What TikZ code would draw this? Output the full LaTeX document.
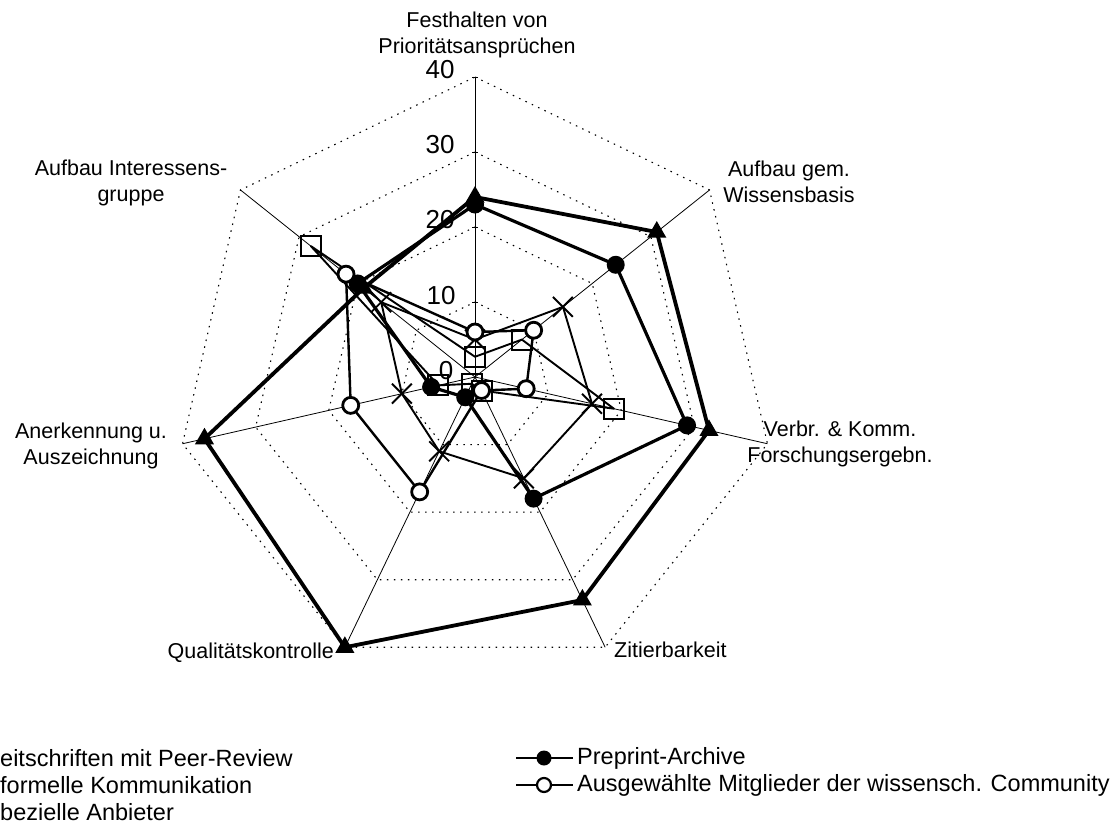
\documentclass[tikz,border=0pt]{standalone}
\usepackage{fontspec}
\setmainfont{Liberation Sans}
\usetikzlibrary{shapes.geometric,shapes.misc}
\begin{document}
\begin{tikzpicture}[x=1pt,y=-1pt,
  lbl/.style={font=\fontsize{21.5}{26}\selectfont, align=center, inner sep=0pt},
  leg/.style={font=\fontsize{23.5}{26}\selectfont, inner sep=0pt, anchor=west},
  num/.style={font=\fontsize{26}{26}\selectfont, inner sep=0pt},
  gridring/.style={line width=1.1pt, dash pattern=on 1.5pt off 5.5pt},
  axisline/.style={line width=0.8pt},
  triline/.style={line width=3.8pt, line join=round},
  preline/.style={line width=3.2pt, line join=round},
  opnline/.style={line width=2.4pt, line join=round},
  crsline/.style={line width=1.9pt, line join=round},
  sqrline/.style={line width=1.9pt, line join=round},
  trimark/.style={regular polygon, regular polygon sides=3, fill=black, minimum size=22pt, inner sep=0pt},
  premark/.style={circle, fill=black, minimum size=18pt, inner sep=0pt},
  opnmark/.style={circle, draw=black, line width=2.8pt, fill=white, minimum size=16pt, inner sep=0pt},
  crsmark/.style={cross out, draw=black, line width=1.9pt, minimum size=18pt, inner sep=0pt},
  sqrmark/.style={rectangle, draw=black, line width=2pt, minimum size=20pt, inner sep=0pt},
]
\useasboundingbox (0,0) rectangle (1117,825);
\fill[white] (0,0) rectangle (1117,825);

\begin{scope}[shift={(475,377)}]
  \coordinate (C) at (0,0);
  % grid rings
  \foreach \r in {10,20,30,40}{
    \draw[gridring] (-90:7.5*\r) \foreach \k in {1,...,6}{ -- ({-90+\k*360/7}:7.5*\r)} -- cycle;
  }
  % axes
  \foreach \k in {0,...,6}{
    \coordinate (T\k) at ({-90+\k*360/7}:300);
    \draw[axisline] (C) -- (T\k);
  }
  % series coordinates
  \foreach \k/\v in {0/24,1/31,2/32,3/33,4/40,5/37,6/19}{\coordinate (tri\k) at ({-90+\k*360/7}:7.5*\v);}
  \foreach \k/\v in {0/23,1/24,2/29,3/18,4/3,5/6,6/20}{\coordinate (pre\k) at ({-90+\k*360/7}:7.5*\v);}
  \foreach \k/\v in {0/6,1/10,2/7,3/2,4/17,5/17,6/22}{\coordinate (opn\k) at ({-90+\k*360/7}:7.5*\v);}
  \foreach \k/\v in {0/5,1/15,2/16,3/15,4/11,5/10,6/16}{\coordinate (crs\k) at ({-90+\k*360/7}:7.5*\v);}
  \foreach \k/\v in {0/2.7,1/8,2/19,3/2,4/1,5/5,6/28}{\coordinate (sqr\k) at ({-90+\k*360/7}:7.5*\v);}
\end{scope}

% tick marks on top axis
\foreach \t in {0,1,2,3}{ \draw[axisline] (472,{77+75*\t}) -- (478,{77+75*\t}); }
% scale numbers
\node[num] (n40) at (440,70) {40};
\node[num] (n30) at (440,145) {30};
\node[num] (n20) at (440,220) {20};
\node[num] (n10) at (441,296) {10};
\node[num] (n0) at (446,371) {0};

% series lines
\draw[sqrline] (sqr0) -- (sqr1) -- (sqr2) -- (sqr3) -- (sqr4) -- (sqr5) -- (sqr6) -- cycle;
\draw[crsline] (crs0) -- (crs1) -- (crs2) -- (crs3) -- (crs4) -- (crs5) -- (crs6) -- cycle;
\draw[opnline] (opn0) -- (opn1) -- (opn2) -- (opn3) -- (opn4) -- (opn5) -- (opn6) -- cycle;
\draw[preline] (pre0) -- (pre1) -- (pre2) -- (pre3) -- (pre4) -- (pre5) -- (pre6) -- cycle;
\draw[triline] (tri0) -- (tri1) -- (tri2) -- (tri3) -- (tri4) -- (tri5) -- (tri6) -- cycle;

% markers
\foreach \k in {0,...,6}{ \node[trimark] (mtri\k) at (tri\k) {}; }
\foreach \k in {0,...,6}{ \node[premark] (mpre\k) at (pre\k) {}; }
\foreach \k in {0,...,6}{ \node[sqrmark] (msqr\k) at (sqr\k) {}; }
\foreach \k in {0,...,6}{ \node[crsmark] (mcrs\k) at (crs\k) {}; }
\foreach \k in {0,...,6}{ \node[opnmark] (mopn\k) at (opn\k) {}; }

% axis labels
\node[lbl] (L0) at (477,35) {Festhalten von\\Prioritätsansprüchen};
\node[lbl] (L1) at (789,182) {Aufbau gem.\\Wissensbasis};
\node[lbl] (L2) at (840,444) {Verbr. \& Komm.\\Forschungsergebn.};
\node[lbl, anchor=base west] (L3) at (614,657) {Zitierbarkeit};
\node[lbl, anchor=base east] (L4) at (334,658) {Qualitätskontrolle};
\node[lbl] (L5) at (91,446) {Anerkennung u.\\Auszeichnung};
\node[lbl] (L6) at (131,183) {Aufbau Interessens-\\gruppe};

% legend, left column (cut off at the page edge)
\node[leg] (g1) at (0,758) {eitschriften mit Peer-Review};
\node[leg] (g2) at (0,785) {formelle Kommunikation};
\node[leg] (g3) at (0,812) {bezielle Anbieter};
% legend, right column
\coordinate (pa) at (516,758); \coordinate (pb) at (573,758);
\draw[preline, line width=2.2pt] (pa) -- (pb);
\node[premark, minimum size=15pt] (gpm) at (544,758) {};
\node[leg] (g4) at (577,758) {Preprint-Archive};
\coordinate (oa) at (516,785); \coordinate (ob) at (573,785);
\draw[opnline, line width=1.8pt] (oa) -- (ob);
\node[opnmark, minimum size=14pt, line width=2.2pt] (gom) at (544,785) {};
\node[leg] (g5) at (577,785) {Ausgewählte Mitglieder der wissensch. Community};
\end{tikzpicture}
\end{document}
